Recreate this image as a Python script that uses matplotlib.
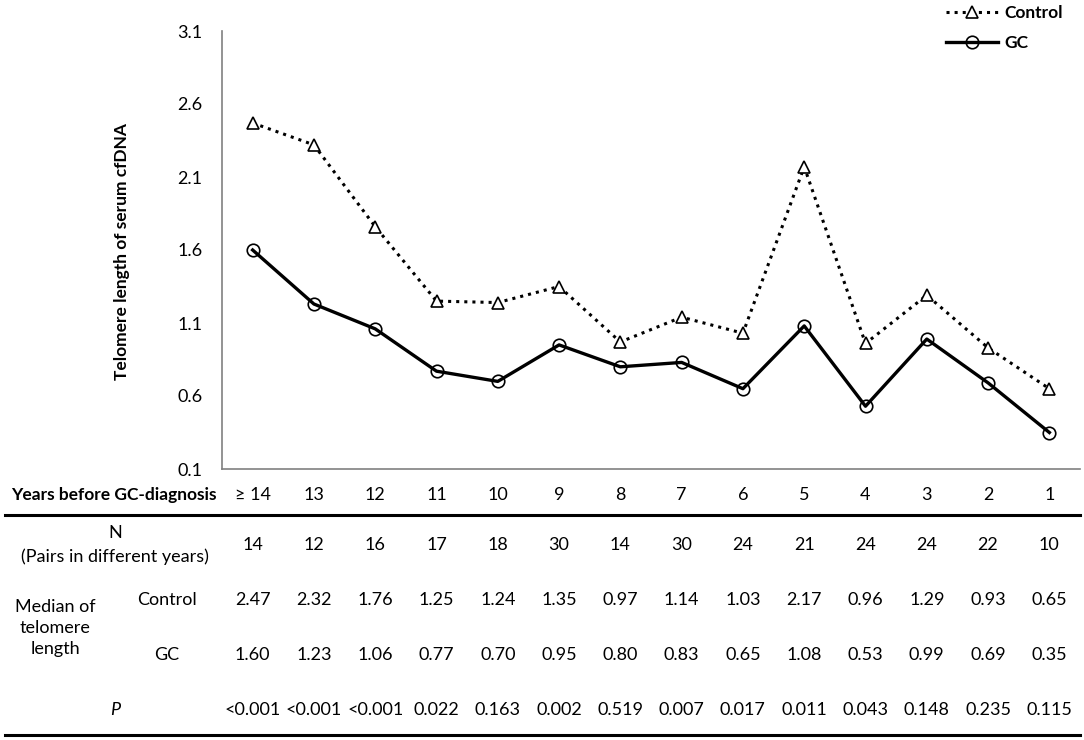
import matplotlib
matplotlib.use('Agg')
from matplotlib import pyplot as plt
from matplotlib import transforms

plt.rcParams['font.family'] = ['Lato', 'DejaVu Sans']

years = ['\u2265 14', '13', '12', '11', '10', '9', '8', '7', '6', '5', '4', '3', '2', '1']
n_pairs = [14, 12, 16, 17, 18, 30, 14, 30, 24, 21, 24, 24, 22, 10]
control = [2.47, 2.32, 1.76, 1.25, 1.24, 1.35, 0.97, 1.14, 1.03, 2.17, 0.96, 1.29, 0.93, 0.65]
gc = [1.60, 1.23, 1.06, 0.77, 0.70, 0.95, 0.80, 0.83, 0.65, 1.08, 0.53, 0.99, 0.69, 0.35]
p_values = ['<0.001', '<0.001', '<0.001', '0.022', '0.163', '0.002', '0.519',
            '0.007', '0.017', '0.011', '0.043', '0.148', '0.235', '0.115']

W, H = 1084, 740
fig = plt.figure(figsize=(W / 100, H / 100), dpi=100)
ax = fig.add_axes([222 / W, 1 - 469 / H, (1080 - 222) / W, (469 - 31) / H])

x = list(range(len(years)))
ax.plot(x, control, color='black', linestyle=':', linewidth=2.2, marker='^',
        markersize=9, markerfacecolor='white', markeredgecolor='black',
        markeredgewidth=1.2, label='Control')
ax.plot(x, gc, color='black', linestyle='-', linewidth=2.4, marker='o',
        markersize=9, markerfacecolor='none', markeredgecolor='black',
        markeredgewidth=1.2, label='GC')

ax.set_xlim(-0.5, len(years) - 0.5)
ax.set_ylim(0.1, 3.1)
ax.set_yticks([0.1, 0.6, 1.1, 1.6, 2.1, 2.6, 3.1])
ax.set_yticklabels(['0.1', '0.6', '1.1', '1.6', '2.1', '2.6', '3.1'])
ax.set_xticks([])
ax.tick_params(axis='y', length=0, labelsize=13, pad=14)
ax.spines['top'].set_visible(False)
ax.spines['right'].set_visible(False)
ax.spines['left'].set_color('#808080')
ax.spines['bottom'].set_color('#808080')
ax.spines['left'].set_linewidth(1.2)
ax.spines['bottom'].set_linewidth(1.2)

fig.text(122 / W, 1 - 251 / H, 'Telomere length of serum cfDNA', rotation=90,
         ha='center', va='center', fontsize=12.5, fontweight='bold')

leg = ax.legend(loc='upper right', bbox_to_anchor=(1072 / W, 1.005),
                bbox_transform=fig.transFigure, frameon=False,
                prop={'weight': 'bold', 'size': 12.5}, handlelength=3,
                handletextpad=0.4, labelspacing=0.8, borderpad=0.0)

# Table under the chart
tr = transforms.blended_transform_factory(ax.transData, fig.transFigure)


def fy(py):
    return 1 - py / H


fs = 13
fig.text(217 / W, fy(495), 'Years before GC-diagnosis', ha='right', va='center',
         fontsize=12.5, fontweight='bold')
fig.text(115 / W, fy(533), 'N', ha='center', va='center', fontsize=fs)
fig.text(115 / W, fy(557), '(Pairs in different years)', ha='center', va='center', fontsize=fs)
fig.text(55 / W, fy(628), 'Median of\ntelomere\nlength', ha='center', va='center',
         fontsize=fs, linespacing=1.4)
fig.text(167 / W, fy(600), 'Control', ha='center', va='center', fontsize=fs)
fig.text(167 / W, fy(655), 'GC', ha='center', va='center', fontsize=fs)
fig.text(115 / W, fy(710), 'P', ha='center', va='center', fontsize=fs, style='italic')

for i in x:
    ax.text(i, fy(495), years[i], transform=tr, ha='center', va='center', fontsize=fs)
    ax.text(i, fy(545), str(n_pairs[i]), transform=tr, ha='center', va='center', fontsize=fs)
    ax.text(i, fy(600), '%.2f' % control[i], transform=tr, ha='center', va='center', fontsize=fs)
    ax.text(i, fy(655), '%.2f' % gc[i], transform=tr, ha='center', va='center', fontsize=fs)
    ax.text(i, fy(710), p_values[i], transform=tr, ha='center', va='center', fontsize=fs)

for py in (515, 735):
    fig.add_artist(plt.Line2D([5 / W, 1080 / W], [fy(py), fy(py)], color='black',
                              linewidth=2.2, transform=fig.transFigure))

fig.savefig('out.png', dpi=100)
